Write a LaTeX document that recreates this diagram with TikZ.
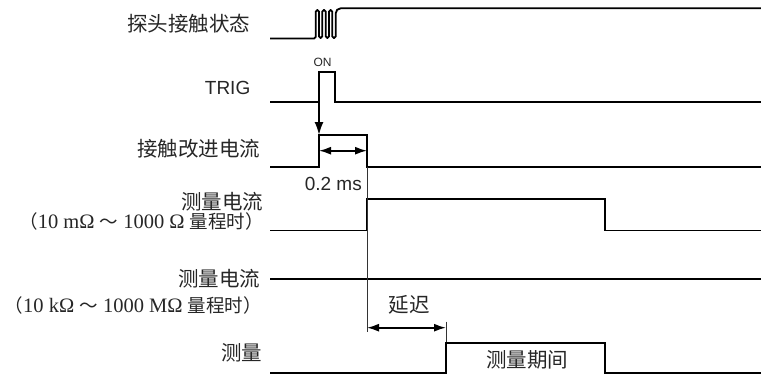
\documentclass[tikz,border=0pt]{standalone}
\usepackage{fontspec}
\setmainfont{Liberation Serif}
\newfontfamily\cjk{Noto Sans CJK SC}
\newfontfamily\arial{Liberation Sans}
\usetikzlibrary{arrows.meta}
\newcommand{\pc}[1]{{\cjk\fontsize{18.5}{20}\selectfont #1}}
\begin{document}
\begin{tikzpicture}[x=1pt,y=-1pt,
  wave/.style={line width=1.8pt, line join=miter, draw=black},
  guide/.style={line width=0.8pt, draw=black!80},
  lab/.style={anchor=base east, inner sep=0pt, text=black!85, font=\cjk\fontsize{20.5}{22}\selectfont},
  serlab/.style={anchor=base east, inner sep=0pt, text=black!85, font=\fontsize{20.5}{22}\selectfont},
  sanslab/.style={inner sep=0pt, text=black!85, font=\arial\fontsize{19}{21}\selectfont},
  cjktext/.style={anchor=base, inner sep=0pt, text=black!85, font=\cjk\fontsize{20.5}{22}\selectfont},
  dimarrow/.style={line width=1.6pt, {Latex[length=12pt,width=8pt]}-{Latex[length=12pt,width=8pt]}},
  downarrow/.style={line width=1.8pt, -{Latex[length=13pt,width=9pt]}}]
\useasboundingbox (0,0) rectangle (761,375);

% labels
\node[lab] (l1) at (250.5,31.5) {探头接触状态};
\node[sanslab, anchor=base east] (l2) at (250.5,94.3) {TRIG};
\node[lab] (l3) at (260.5,156) {接触改进电流};
\node[lab] (l4a) at (263.5,209.5) {测量电流};
\node[serlab] (l4b) at (264,228) {\pc{（}10 mΩ \pc{〜} 1000 Ω \pc{量程时）}};
\node[lab] (l5a) at (260.5,286) {测量电流};
\node[serlab] (l5b) at (262,312) {\pc{（}10 kΩ \pc{〜} 1000 MΩ \pc{量程时）}};
\node[lab] (l6) at (262.5,360) {测量};

% row 1: probe contact state
\draw[wave, rounded corners=1.6pt] (270,38.5) -- (315.7,38.5) -- (315.7,10) -- (319,10) -- (319,38)
  -- (322.3,38) -- (322.3,10) -- (325.7,10) -- (325.7,38) -- (329,38) -- (329,10)
  -- (332.3,10) -- (332.3,38) -- (335.7,38) [rounded corners=5pt] -- (335.7,8.3) -- (761,8.3);

% row 2: TRIG
\coordinate (trigrise) at (319,102);
\draw[wave] (270,102) -- (trigrise) -- (319,72) -- (335,72) -- (335,102) -- (761,102);
\node[anchor=base, inner sep=0pt, text=black!85, font=\arial\fontsize{12}{13}\selectfont] (on) at (322.5,66.5) {ON};

% row 3: contact improvement current
\coordinate (p3l) at (319,135);
\coordinate (p3r) at (367,135);
\draw[wave] (270,166.7) -- (319,166.7) -- (p3l) -- (p3r) -- (367,166.7) -- (761,166.7);
\draw[downarrow] (trigrise) -- (p3l);
\coordinate (d1a) at (319,150.7);
\coordinate (d1b) at (367,150.7);
\draw[dimarrow] (d1a) -- (d1b);
\node[sanslab, anchor=base east] (t02) at (362,190) {0.2 ms};

% row 4: measuring current (low range)
\draw[wave] (270,230.5) -- (367,230.5) -- (367,199.3) -- (605,199.3) -- (605,230.5) -- (761,230.5);

% row 5: measuring current (high range)
\draw[wave] (270,278.7) -- (761,278.7);

% guide lines
\coordinate (g1t) at (367,167);
\coordinate (g1b) at (367,332);
\draw[guide] (g1t) -- (g1b);
\coordinate (g2t) at (446,321.5);
\coordinate (g2b) at (446,342.7);
\draw[guide] (g2t) -- (g2b);

% delay
\coordinate (d2a) at (367,327.7);
\coordinate (d2b) at (446,327.7);
\draw[dimarrow] (d2a) -- (d2b);
\node[cjktext] (delay) at (409,312.5) {延迟};

% row 6: measurement
\draw[wave] (270,373.2) -- (446,373.2) -- (g2b) -- (605,342.7) -- (605,373.2) -- (761,373.2);
\node[cjktext] (mp) at (527,367.5) {测量期间};
\end{tikzpicture}
\end{document}
